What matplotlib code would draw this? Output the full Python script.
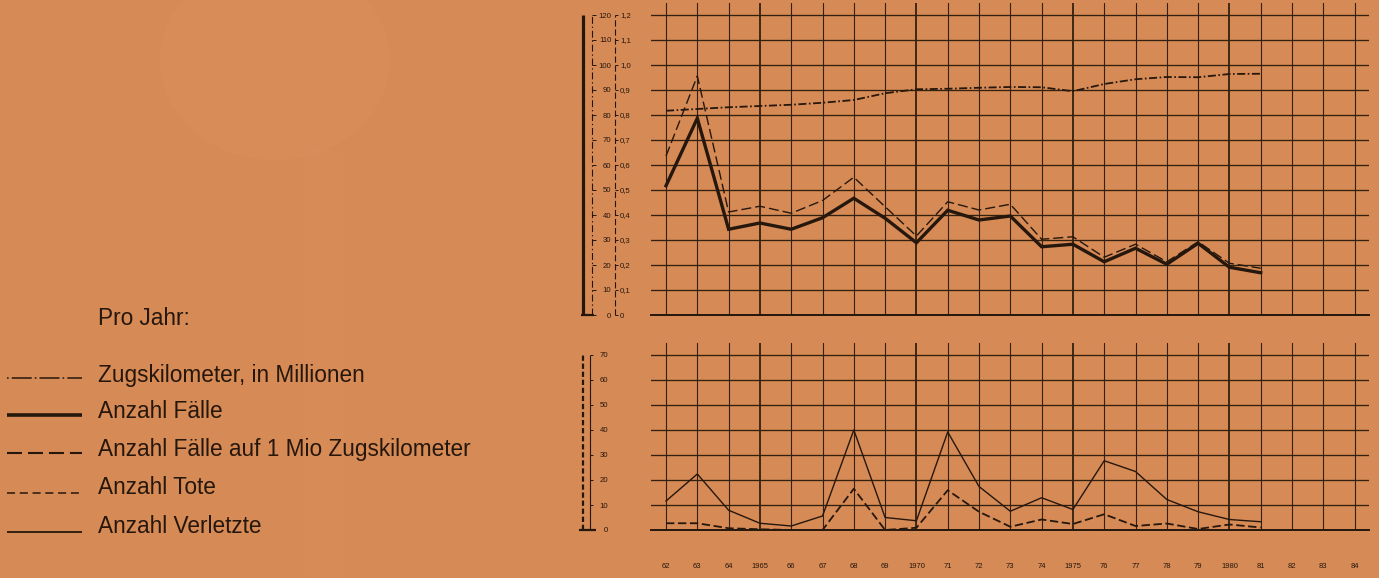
import matplotlib
matplotlib.use("Agg")
import matplotlib.pyplot as plt
from matplotlib.lines import Line2D
from matplotlib.patches import Ellipse, Rectangle
import numpy as np

plt.rcParams["lines.scale_dashes"] = False
plt.rcParams["font.family"] = ["Liberation Sans", "DejaVu Sans"]

# ---------------- data ----------------
years = list(range(1962, 1982))
zugkm = [81.7, 82.4, 83.1, 83.6, 84.1, 84.9, 86.0, 88.7, 90.3, 90.5,
         90.9, 91.2, 91.1, 89.5, 92.4, 94.3, 95.2, 95.1, 96.4, 96.5]
faelle = [51.7, 78.7, 34.3, 36.8, 34.3, 38.9, 46.7, 38.7, 28.9, 41.9,
          38.0, 39.6, 27.3, 28.3, 21.3, 26.7, 20.3, 28.7, 19.1, 16.9]
faelle_pro_mio = [0.636, 0.956, 0.412, 0.435, 0.407, 0.458, 0.551, 0.433, 0.316, 0.453,
                  0.420, 0.443, 0.303, 0.313, 0.231, 0.283, 0.213, 0.293, 0.207, 0.187]
verletzte = [11.6, 22.4, 7.9, 2.7, 1.6, 5.6, 40.0, 5.0, 3.7, 39.2,
             17.4, 7.5, 12.9, 8.2, 27.7, 23.4, 12.2, 7.3, 4.2, 3.3]
tote = [2.7, 2.7, 0.7, 0.3, 0.0, 0.0, 16.5, 0.0, 0.9, 15.9,
        7.3, 1.3, 4.2, 2.4, 6.3, 1.6, 2.6, 0.4, 2.2, 1.0]

axis_years = list(range(1962, 1985))
axis_year_labels = ["62", "63", "64", "1965", "66", "67", "68", "69", "1970", "71", "72",
                    "73", "74", "1975", "76", "77", "78", "79", "1980", "81", "82", "83", "84"]
left_ticks = list(range(0, 121, 10))
left_labels = [str(v) for v in left_ticks]
rate_ticks = [v / 10 for v in range(0, 13)]
rate_labels = ["0"] + [f"{v:.1f}".replace(".", ",") for v in rate_ticks[1:]]
bot_ticks = list(range(0, 71, 10))
bot_labels = [str(v) for v in bot_ticks]

legend_title = "Pro Jahr:"
legend_labels = ["Zugskilometer, in Millionen", "Anzahl Fälle",
                 "Anzahl Fälle auf 1 Mio Zugskilometer", "Anzahl Tote", "Anzahl Verletzte"]

# ---------------- style ----------------
BG = "#D68A55"
LC = "#26170D"
GC = "#34200F"
W, H = 1379, 578

def fx(px):
    return px / W

def fy(py):
    return 1 - py / H

fig = plt.figure(figsize=(W / 100, H / 100), dpi=100)
fig.patch.set_facecolor(BG)

# faint light blotches of the photographed background
fig.add_artist(Ellipse((fx(275), fy(60)), 230 / W, 200 / H, transform=fig.transFigure,
                       color="#E39B68", alpha=0.22, lw=0))
fig.add_artist(Rectangle((fx(305), 0), 40 / W, fy(150), transform=fig.transFigure,
                         color="#DD9460", alpha=0.18, lw=0))

X0, XW = 651, 718
ax_top = fig.add_axes([fx(X0), fy(315), XW / W, 312.5 / H])
ax_bot = fig.add_axes([fx(X0), fy(530), XW / W, 187.5 / H])

major_years = [y for y in axis_years if y % 5 == 0]
minor_years = [y for y in axis_years if y % 5 != 0]
major_labels = [l for y, l in zip(axis_years, axis_year_labels) if y % 5 == 0]
minor_labels = [l for y, l in zip(axis_years, axis_year_labels) if y % 5 != 0]


def grid_axes(ax, ymax, top):
    ax.set_facecolor("none")
    ax.set_xlim(1961.52, 1984.46)
    ax.set_ylim(0, top)
    for s in ["top", "right", "left"]:
        ax.spines[s].set_visible(False)
    ax.spines["bottom"].set_linewidth(1.4)
    ax.spines["bottom"].set_color(LC)
    ax.set_xticks(major_years)
    ax.set_xticks(minor_years, minor=True)
    ax.set_yticks(list(range(0, ymax + 1, 10)))
    ax.grid(True, axis="x", which="major", color=GC, lw=1.3)
    ax.grid(True, axis="x", which="minor", color=GC, lw=0.8)
    ax.grid(True, axis="y", which="major", color=GC, lw=0.95)
    ax.tick_params(which="both", length=0, labelleft=False, labelbottom=False)
    ax.set_axisbelow(True)


grid_axes(ax_top, 120, 125)
grid_axes(ax_bot, 70, 75)


def scale_axis(host, ylim, pos_px, ls, lw, bounds, ticks=None, labels=None,
               ha="left", pad=1.0, ticklen=3.0):
    t = host.twinx()
    t.set_ylim(*ylim)
    for s in ["top", "left", "bottom"]:
        t.spines[s].set_visible(False)
    sp = t.spines["right"]
    sp.set_position(("axes", (pos_px - X0) / XW))
    sp.set_bounds(*bounds)
    sp.set_linestyle(ls)
    sp.set_linewidth(lw)
    sp.set_capstyle("butt")
    sp.set_color(LC)
    if ticks is None:
        t.set_yticks([])
    else:
        t.set_yticks(ticks, labels=labels, ha=ha)
        t.tick_params(axis="y", direction="out", length=ticklen, width=0.7,
                      colors=LC, labelsize=5.6, pad=pad)
    return t


# top chart scales
scale_axis(ax_top, (0, 125), 583, "-", 2.3, (0, 120))
scale_axis(ax_top, (0, 125), 592, (0, (5, 2, 1, 2)), 0.8, (0, 120),
           left_ticks, left_labels, ha="right", pad=11.2, ticklen=2.8)
ax_rate = scale_axis(ax_top, (0, 1.25), 615, (0, (4.5, 2.0)), 0.8, (0, 1.2),
                     rate_ticks, rate_labels, ha="left", pad=1.0, ticklen=2.5)
ax_top.plot([(581 - X0) / XW, (594 - X0) / XW], [0, 0], transform=ax_top.get_yaxis_transform(),
            color=LC, lw=1.6, clip_on=False, solid_capstyle="butt")

# bottom chart scales
scale_axis(ax_bot, (0, 75), 583, (0, (3.8, 2.0)), 1.6, (0, 70))
scale_axis(ax_bot, (0, 75), 590, "-", 0.8, (0, 70),
           bot_ticks, bot_labels, ha="right", pad=10.5, ticklen=2.5)
ax_bot.plot([(579 - X0) / XW, (596 - X0) / XW], [0, 0], transform=ax_bot.get_yaxis_transform(),
            color=LC, lw=1.6, clip_on=False, solid_capstyle="butt")

# year labels
ax_bot.set_xticks(major_years, labels=major_labels)
ax_bot.set_xticks(minor_years, labels=minor_labels, minor=True)
ax_bot.tick_params(axis="x", which="both", labelbottom=True, labelsize=5.5,
                   pad=23.5, colors=LC, length=0)

# ---------------- data lines ----------------
ax_top.plot(years, zugkm, color=LC, lw=1.3, ls=(0, (5.8, 1.8, 1.2, 1.8)))
ax_top.plot(years, faelle, color=LC, lw=2.4, solid_joinstyle="miter")
ax_rate.plot(years, faelle_pro_mio, color=LC, lw=1.0, ls=(0, (7.2, 2.9)))
ax_bot.plot(years, verletzte, color=LC, lw=1.0)
ax_bot.plot(years, tote, color=LC, lw=1.3, ls=(0, (6.0, 2.6)))

# ---------------- legend ----------------
fs = 16.3
fig.text(fx(98), fy(325), legend_title, fontsize=fs, color=LC, va="baseline", ha="left")
text_base = [381.7, 418.3, 456.0, 494.3, 533.3]
sample_y = [378.3, 415.0, 453.3, 492.7, 531.7]
sample_style = [
    dict(lw=1.1, ls=(0, (1.2, 2.2, 14.4, 2.2))),
    dict(lw=2.6, ls="-"),
    dict(lw=1.5, ls=(0, (10.8, 4.3))),
    dict(lw=1.1, ls=(0, (5.8, 3.4))),
    dict(lw=1.3, ls="-"),
]
for lab, tb, sy, st in zip(legend_labels, text_base, sample_y, sample_style):
    fig.add_artist(Line2D([fx(7), fx(82)], [fy(sy), fy(sy)], transform=fig.transFigure,
                          color=LC, solid_capstyle="butt", dash_capstyle="butt", **st))
    fig.text(fx(98), fy(tb), lab, fontsize=fs, color=LC, va="baseline", ha="left")

fig.savefig("out.png", dpi=100, facecolor=BG)
